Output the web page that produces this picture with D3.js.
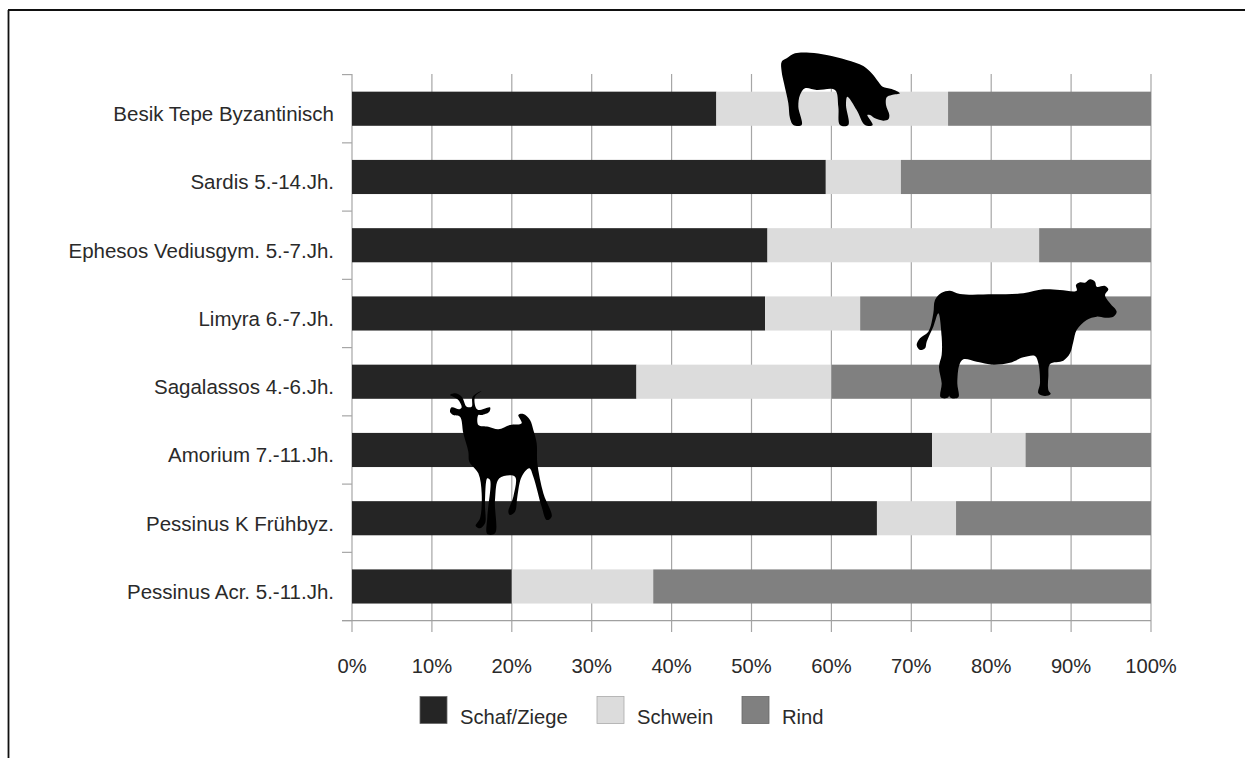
<!DOCTYPE html>
<html><head><meta charset="utf-8">
<script src="https://cdn.jsdelivr.net/npm/d3@7"></script>
<style>html,body{margin:0;background:#fff;overflow:hidden}svg{display:block}text{font-family:"Liberation Sans",Arial,sans-serif;fill:#2a2a2a}</style>
</head><body><svg id="c" width="1245" height="758"></svg>
<script>
const categories=["Besik Tepe Byzantinisch","Sardis 5.-14.Jh.","Ephesos Vediusgym. 5.-7.Jh.","Limyra 6.-7.Jh.","Sagalassos 4.-6.Jh.","Amorium 7.-11.Jh.","Pessinus K Frühbyz.","Pessinus Acr. 5.-11.Jh."];
const seriesNames=["Schaf/Ziege","Schwein","Rind"];
const schafZiege=[45.6,59.3,52,51.7,35.6,72.6,65.7,20];
const schwein=[29,9.4,34,11.9,24.4,11.7,9.9,17.7];
const rind=[25.4,31.3,14,36.4,40,15.7,24.4,62.3];
const colors=["#252525","#dcdcdc","#808080"];
const xTicks=[0,10,20,30,40,50,60,70,80,90,100];

const svg=d3.select("#c");
svg.append("line").attr("x1",8).attr("x2",1245).attr("y1",10).attr("y2",10).attr("stroke","#111").attr("stroke-width",1.8);
svg.append("line").attr("x1",8.5).attr("x2",8.5).attr("y1",10).attr("y2",758).attr("stroke","#111").attr("stroke-width",1.8);
const x=d3.scaleLinear().domain([0,100]).range([352,1151]);
const y=d3.scaleBand().domain(categories).range([74.6,620.6]).paddingInner(0.5).paddingOuter(0.25);
const g=svg.append("g");
g.selectAll("line.g").data(xTicks).join("line").attr("x1",d=>x(d)).attr("x2",d=>x(d)).attr("y1",74).attr("y2",632).attr("stroke","#a6a6a6").attr("stroke-width",1.2);
const boundaries=categories.map(c=>y(c)-y.step()*0.25).concat([620.6]);
g.selectAll("line.t").data(boundaries).join("line").attr("x1",342).attr("x2",352).attr("y1",d=>d).attr("y2",d=>d).attr("stroke","#a6a6a6").attr("stroke-width",1.2);
g.append("line").attr("x1",342).attr("x2",1151).attr("y1",620.6).attr("y2",620.6).attr("stroke","#a0a0a0").attr("stroke-width",1.2);
const rows=categories.map((c,i)=>({c,[seriesNames[0]]:schafZiege[i],[seriesNames[1]]:schwein[i],[seriesNames[2]]:rind[i]}));
const stack=d3.stack().keys(seriesNames)(rows);
stack.forEach((s,k)=>{
  g.append("g").selectAll("rect").data(s).join("rect")
   .attr("x",d=>x(d[0])).attr("width",d=>x(d[1])-x(d[0]))
   .attr("y",d=>y(d.data.c)).attr("height",y.bandwidth()).attr("fill",colors[k]);
});
const fs=20.2;
g.selectAll("text.c").data(categories).join("text").attr("x",334).attr("y",d=>y(d)+y.bandwidth()/2+12.5).attr("text-anchor","end").attr("font-size",20.5).text(d=>d);
g.selectAll("text.x").data(xTicks).join("text").attr("x",d=>x(d)).attr("y",672.5).attr("text-anchor","middle").attr("font-size",fs).text(d=>d+"%");
const lg=[{x:420,tx:460},{x:597,tx:637},{x:742,tx:782}];
seriesNames.forEach((n,i)=>{
  svg.append("rect").attr("x",lg[i].x).attr("y",696.5).attr("width",27).attr("height",27).attr("fill",colors[i]).attr("stroke",i==1?"#aaa":"#666").attr("stroke-width",0.8);
  svg.append("text").attr("x",lg[i].tx).attr("y",723.5).attr("font-size",fs).text(n);
});
// decorative animal silhouettes: outline points in a local 3x grid
const pig=[[65,65],[80,55],[105,40],[150,38],[200,45],[260,60],[310,78],[335,100],[355,125],[368,140],[395,147],[420,160],[395,165],[380,172],[378,195],[388,225],[385,238],[370,242],[345,235],[330,225],[322,225],[338,255],[315,255],[290,210],[262,170],[258,195],[265,255],[240,255],[235,200],[225,150],[170,150],[135,145],[120,165],[115,200],[125,255],[100,255],[90,235],[85,190],[72,130],[65,95]];
const cow=[[105,90],[125,68],[150,62],[180,72],[280,73],[370,70],[430,58],[480,60],[530,62],[528,45],[540,37],[555,38],[570,28],[585,35],[590,50],[615,48],[625,58],[615,75],[630,100],[650,125],[640,140],[615,143],[590,140],[560,150],[530,180],[520,215],[510,250],[490,272],[450,282],[445,320],[445,360],[452,372],[435,378],[415,370],[420,340],[415,280],[405,258],[370,262],[330,278],[280,284],[230,275],[190,268],[178,285],[172,340],[175,382],[150,382],[147,330],[145,382],[122,382],[125,340],[117,290],[125,255],[125,200],[115,130],[100,170],[80,215],[75,235],[60,240],[50,225],[60,205],[85,185],[100,130]];
const goat=[[60,45],[75,40],[95,50],[110,80],[125,80],[128,50],[155,33],[135,50],[137,82],[145,90],[180,82],[178,95],[155,105],[145,105],[145,135],[175,140],[205,148],[240,135],[275,130],[265,105],[280,102],[300,120],[310,150],[320,190],[322,250],[340,340],[365,410],[350,420],[335,380],[310,290],[298,265],[275,290],[262,350],[255,395],[240,405],[235,395],[250,350],[255,290],[208,295],[195,360],[195,460],[172,462],[172,410],[180,300],[172,295],[165,370],[165,430],[150,445],[137,438],[150,415],[155,340],[145,280],[118,245],[115,215],[100,160],[90,110],[70,105],[60,95],[65,82],[88,88],[95,82],[85,60],[70,50]];
const outline=d3.line().curve(d3.curveCatmullRomClosed.alpha(0.5));
[[pig,760,40],[cow,900,270],[goat,430,380]].forEach(([pts,tx,ty])=>
  svg.append("path").attr("d",outline(pts)).attr("fill","#000").attr("transform",`translate(${tx},${ty}) scale(${1/3})`));
</script></body></html>
